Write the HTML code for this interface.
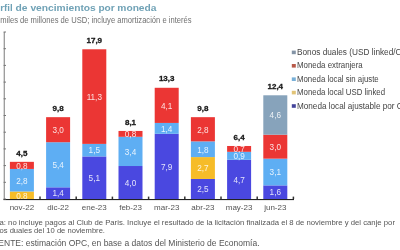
<!DOCTYPE html>
<html><head><meta charset="utf-8"><style>
html,body{margin:0;padding:0;background:#fff;width:400px;height:250px;overflow:hidden}
svg{display:block;will-change:transform}
text{font-family:"Liberation Sans",sans-serif}
</style></head><body>
<svg width="400" height="250" viewBox="0 0 400 250">
<text x="-11.56" y="11.45" style="font-size:9.7px;font-weight:bold;fill:#70a2b6">Perfil</text>
<text x="15.60" y="11.45" style="font-size:9.7px;font-weight:bold;fill:#70a2b6" textLength="12.00" lengthAdjust="spacingAndGlyphs">de</text>
<text x="30.40" y="11.45" style="font-size:9.7px;font-weight:bold;fill:#70a2b6" textLength="65.40" lengthAdjust="spacingAndGlyphs">vencimientos</text>
<text x="98.40" y="11.45" style="font-size:9.7px;font-weight:bold;fill:#70a2b6" textLength="16.30" lengthAdjust="spacingAndGlyphs">por</text>
<text x="117.30" y="11.45" style="font-size:9.7px;font-weight:bold;fill:#70a2b6" textLength="39.20" lengthAdjust="spacingAndGlyphs">moneda</text>
<text x="0.20" y="22.60" style="font-size:8.2px;font-weight:normal;fill:#707070" textLength="191.40" lengthAdjust="spacingAndGlyphs">miles de millones de USD; incluye amortización e interés</text>
<rect x="9.90" y="191.49" width="24.0" height="7.51" fill="#f6bc28"/>
<text x="21.90" y="198.54" style="font-size:8.2px;font-weight:normal;fill:rgba(255,255,255,0.85)" text-anchor="middle">0,8</text>
<rect x="9.90" y="168.94" width="24.0" height="22.55" fill="#5eaef3"/>
<text x="21.90" y="183.51" style="font-size:8.2px;font-weight:normal;fill:rgba(255,255,255,0.85)" text-anchor="middle">2,8</text>
<rect x="9.90" y="161.84" width="24.0" height="7.10" fill="#eb3634"/>
<text x="21.90" y="168.69" style="font-size:8.2px;font-weight:normal;fill:rgba(255,255,255,0.85)" text-anchor="middle">0,8</text>
<text x="21.90" y="155.54" style="font-size:8.0px;font-weight:bold;fill:#1a1a1a" text-anchor="middle" stroke="#1a1a1a" stroke-width="0.3">4,5</text>
<text x="21.90" y="210.30" style="font-size:8px;font-weight:normal;fill:#555" text-anchor="middle">nov-22</text>
<rect x="46.10" y="187.31" width="24.0" height="11.69" fill="#4a48e0"/>
<text x="58.10" y="196.46" style="font-size:8.2px;font-weight:normal;fill:rgba(255,255,255,0.85)" text-anchor="middle">1,4</text>
<rect x="46.10" y="142.22" width="24.0" height="45.09" fill="#5eaef3"/>
<text x="58.10" y="168.06" style="font-size:8.2px;font-weight:normal;fill:rgba(255,255,255,0.85)" text-anchor="middle">5,4</text>
<rect x="46.10" y="117.17" width="24.0" height="25.05" fill="#eb3634"/>
<text x="58.10" y="133.00" style="font-size:8.2px;font-weight:normal;fill:rgba(255,255,255,0.85)" text-anchor="middle">3,0</text>
<text x="58.10" y="110.87" style="font-size:8.0px;font-weight:bold;fill:#1a1a1a" text-anchor="middle" stroke="#1a1a1a" stroke-width="0.3">9,8</text>
<text x="58.10" y="210.30" style="font-size:8px;font-weight:normal;fill:#555" text-anchor="middle">dic-22</text>
<rect x="82.30" y="156.42" width="24.0" height="42.58" fill="#4a48e0"/>
<text x="94.30" y="181.01" style="font-size:8.2px;font-weight:normal;fill:rgba(255,255,255,0.85)" text-anchor="middle">5,1</text>
<rect x="82.30" y="143.89" width="24.0" height="12.52" fill="#5eaef3"/>
<text x="94.30" y="153.45" style="font-size:8.2px;font-weight:normal;fill:rgba(255,255,255,0.85)" text-anchor="middle">1,5</text>
<rect x="82.30" y="49.28" width="24.0" height="94.61" fill="#eb3634"/>
<text x="94.30" y="99.89" style="font-size:8.2px;font-weight:normal;fill:rgba(255,255,255,0.85)" text-anchor="middle">11,3</text>
<text x="94.30" y="42.98" style="font-size:8.0px;font-weight:bold;fill:#1a1a1a" text-anchor="middle" stroke="#1a1a1a" stroke-width="0.3">17,9</text>
<text x="94.30" y="210.30" style="font-size:8px;font-weight:normal;fill:#555" text-anchor="middle">ene-23</text>
<rect x="118.50" y="166.02" width="24.0" height="32.98" fill="#4a48e0"/>
<text x="130.50" y="185.81" style="font-size:8.2px;font-weight:normal;fill:rgba(255,255,255,0.85)" text-anchor="middle">4,0</text>
<rect x="118.50" y="136.79" width="24.0" height="29.22" fill="#5eaef3"/>
<text x="130.50" y="154.70" style="font-size:8.2px;font-weight:normal;fill:rgba(255,255,255,0.85)" text-anchor="middle">3,4</text>
<rect x="118.50" y="130.95" width="24.0" height="5.84" fill="#eb3634"/>
<text x="130.50" y="137.17" style="font-size:8.2px;font-weight:normal;fill:rgba(255,255,255,0.85)" text-anchor="middle">0,8</text>
<text x="130.50" y="124.65" style="font-size:8.0px;font-weight:bold;fill:#1a1a1a" text-anchor="middle" stroke="#1a1a1a" stroke-width="0.3">8,1</text>
<text x="130.50" y="210.30" style="font-size:8px;font-weight:normal;fill:#555" text-anchor="middle">feb-23</text>
<rect x="154.70" y="133.79" width="24.0" height="65.21" fill="#4a48e0"/>
<text x="166.70" y="169.69" style="font-size:8.2px;font-weight:normal;fill:rgba(255,255,255,0.85)" text-anchor="middle">7,9</text>
<rect x="154.70" y="122.93" width="24.0" height="10.86" fill="#5eaef3"/>
<text x="166.70" y="131.66" style="font-size:8.2px;font-weight:normal;fill:rgba(255,255,255,0.85)" text-anchor="middle">1,4</text>
<rect x="154.70" y="87.78" width="24.0" height="35.15" fill="#eb3634"/>
<text x="166.70" y="108.65" style="font-size:8.2px;font-weight:normal;fill:rgba(255,255,255,0.85)" text-anchor="middle">4,1</text>
<text x="166.70" y="81.48" style="font-size:8.0px;font-weight:bold;fill:#1a1a1a" text-anchor="middle" stroke="#1a1a1a" stroke-width="0.3">13,3</text>
<text x="166.70" y="210.30" style="font-size:8px;font-weight:normal;fill:#555" text-anchor="middle">mar-23</text>
<rect x="190.90" y="178.96" width="24.0" height="20.04" fill="#4a48e0"/>
<text x="202.90" y="192.28" style="font-size:8.2px;font-weight:normal;fill:rgba(255,255,255,0.85)" text-anchor="middle">2,5</text>
<rect x="190.90" y="157.08" width="24.0" height="21.88" fill="#f6bc28"/>
<text x="202.90" y="171.32" style="font-size:8.2px;font-weight:normal;fill:rgba(255,255,255,0.85)" text-anchor="middle">2,7</text>
<rect x="190.90" y="141.38" width="24.0" height="15.70" fill="#5eaef3"/>
<text x="202.90" y="152.53" style="font-size:8.2px;font-weight:normal;fill:rgba(255,255,255,0.85)" text-anchor="middle">1,8</text>
<rect x="190.90" y="117.17" width="24.0" height="24.21" fill="#eb3634"/>
<text x="202.90" y="132.58" style="font-size:8.2px;font-weight:normal;fill:rgba(255,255,255,0.85)" text-anchor="middle">2,8</text>
<text x="202.90" y="110.87" style="font-size:8.0px;font-weight:bold;fill:#1a1a1a" text-anchor="middle" stroke="#1a1a1a" stroke-width="0.3">9,8</text>
<text x="202.90" y="210.30" style="font-size:8px;font-weight:normal;fill:#555" text-anchor="middle">abr-23</text>
<rect x="227.10" y="159.75" width="24.0" height="39.24" fill="#4a48e0"/>
<text x="239.10" y="182.68" style="font-size:8.2px;font-weight:normal;fill:rgba(255,255,255,0.85)" text-anchor="middle">4,7</text>
<rect x="227.10" y="151.82" width="24.0" height="7.93" fill="#5eaef3"/>
<text x="239.10" y="159.09" style="font-size:8.2px;font-weight:normal;fill:rgba(255,255,255,0.85)" text-anchor="middle">0,9</text>
<rect x="227.10" y="145.98" width="24.0" height="5.84" fill="#eb3634"/>
<text x="239.10" y="152.20" style="font-size:8.2px;font-weight:normal;fill:rgba(255,255,255,0.85)" text-anchor="middle">0,7</text>
<text x="239.10" y="139.68" style="font-size:8.0px;font-weight:bold;fill:#1a1a1a" text-anchor="middle" stroke="#1a1a1a" stroke-width="0.3">6,4</text>
<text x="239.10" y="210.30" style="font-size:8px;font-weight:normal;fill:#555" text-anchor="middle">may-23</text>
<rect x="263.30" y="185.39" width="24.0" height="13.61" fill="#4a48e0"/>
<text x="275.30" y="195.49" style="font-size:8.2px;font-weight:normal;fill:rgba(255,255,255,0.85)" text-anchor="middle">1,6</text>
<rect x="263.30" y="158.67" width="24.0" height="26.72" fill="#5eaef3"/>
<text x="275.30" y="175.33" style="font-size:8.2px;font-weight:normal;fill:rgba(255,255,255,0.85)" text-anchor="middle">3,1</text>
<rect x="263.30" y="134.70" width="24.0" height="23.96" fill="#eb3634"/>
<text x="275.30" y="149.99" style="font-size:8.2px;font-weight:normal;fill:rgba(255,255,255,0.85)" text-anchor="middle">3,0</text>
<rect x="263.30" y="95.29" width="24.0" height="39.41" fill="#87a3bb"/>
<text x="275.30" y="118.30" style="font-size:8.2px;font-weight:normal;fill:rgba(255,255,255,0.85)" text-anchor="middle">4,6</text>
<text x="275.30" y="88.99" style="font-size:8.0px;font-weight:bold;fill:#1a1a1a" text-anchor="middle" stroke="#1a1a1a" stroke-width="0.3">12,4</text>
<text x="275.30" y="210.30" style="font-size:8px;font-weight:normal;fill:#555" text-anchor="middle">jun-23</text>
<line x1="4.3" y1="32" x2="4.3" y2="199.5" stroke="#999" stroke-width="1.3"/>
<rect x="3.5" y="199" width="290.5" height="1.1" fill="#222"/>
<line x1="3.6" y1="199.00" x2="6.0" y2="199.00" stroke="#777" stroke-width="1"/>
<line x1="3.6" y1="182.30" x2="6.0" y2="182.30" stroke="#777" stroke-width="1"/>
<line x1="3.6" y1="165.60" x2="6.0" y2="165.60" stroke="#777" stroke-width="1"/>
<line x1="3.6" y1="148.90" x2="6.0" y2="148.90" stroke="#777" stroke-width="1"/>
<line x1="3.6" y1="132.20" x2="6.0" y2="132.20" stroke="#777" stroke-width="1"/>
<line x1="3.6" y1="115.50" x2="6.0" y2="115.50" stroke="#777" stroke-width="1"/>
<line x1="3.6" y1="98.80" x2="6.0" y2="98.80" stroke="#777" stroke-width="1"/>
<line x1="3.6" y1="82.10" x2="6.0" y2="82.10" stroke="#777" stroke-width="1"/>
<line x1="3.6" y1="65.40" x2="6.0" y2="65.40" stroke="#777" stroke-width="1"/>
<line x1="3.6" y1="48.70" x2="6.0" y2="48.70" stroke="#777" stroke-width="1"/>
<line x1="3.6" y1="32.00" x2="6.0" y2="32.00" stroke="#777" stroke-width="1"/>
<line x1="40.00" y1="196.6" x2="40.00" y2="199" stroke="#333" stroke-width="1.5"/>
<line x1="76.20" y1="196.6" x2="76.20" y2="199" stroke="#333" stroke-width="1.5"/>
<line x1="112.40" y1="196.6" x2="112.40" y2="199" stroke="#333" stroke-width="1.5"/>
<line x1="148.60" y1="196.6" x2="148.60" y2="199" stroke="#333" stroke-width="1.5"/>
<line x1="184.80" y1="196.6" x2="184.80" y2="199" stroke="#333" stroke-width="1.5"/>
<line x1="221.00" y1="196.6" x2="221.00" y2="199" stroke="#333" stroke-width="1.5"/>
<line x1="257.20" y1="196.6" x2="257.20" y2="199" stroke="#333" stroke-width="1.5"/>
<line x1="293.40" y1="196.6" x2="293.40" y2="199" stroke="#333" stroke-width="1.5"/>
<rect x="291.8" y="50.60" width="4" height="3.6" fill="#8494a6"/>
<text x="297.00" y="55.00" style="font-size:8.4px;font-weight:normal;fill:#444" textLength="118.74" lengthAdjust="spacingAndGlyphs">Bonos duales (USD linked/CER)</text>
<rect x="291.8" y="64.00" width="4" height="3.6" fill="#b85a4a"/>
<text x="297.00" y="68.40" style="font-size:8.4px;font-weight:normal;fill:#444" textLength="65.70" lengthAdjust="spacingAndGlyphs">Moneda extranjera</text>
<rect x="291.8" y="77.40" width="4" height="3.6" fill="#78b0d8"/>
<text x="297.00" y="81.80" style="font-size:8.4px;font-weight:normal;fill:#444" textLength="81.70" lengthAdjust="spacingAndGlyphs">Moneda local sin ajuste</text>
<rect x="291.8" y="90.80" width="4" height="3.6" fill="#e2c477"/>
<text x="297.00" y="95.20" style="font-size:8.4px;font-weight:normal;fill:#444" textLength="88.10" lengthAdjust="spacingAndGlyphs">Moneda local USD linked</text>
<rect x="291.8" y="104.20" width="4" height="3.6" fill="#44449a"/>
<text x="297.00" y="108.60" style="font-size:8.4px;font-weight:normal;fill:#444" textLength="117.03" lengthAdjust="spacingAndGlyphs">Moneda local ajustable por CER</text>
<text x="-12.50" y="224.50" style="font-size:7.8px;font-weight:normal;fill:#555" textLength="407.46" lengthAdjust="spacingAndGlyphs">Nota: no incluye pagos al Club de Paris. Incluye el resultado de la licitación finalizada el 8 de noviembre y del canje por</text>
<text x="-13.13" y="233.30" style="font-size:7.8px;font-weight:normal;fill:#555" textLength="118.10" lengthAdjust="spacingAndGlyphs">bonos duales del 10 de noviembre.</text>
<text x="-13.01" y="246.40" style="font-size:8.6px;font-weight:normal;fill:#555" textLength="272.53" lengthAdjust="spacingAndGlyphs">FUENTE: estimación OPC, en base a datos del Ministerio de Economía.</text>
</svg>
</body></html>
